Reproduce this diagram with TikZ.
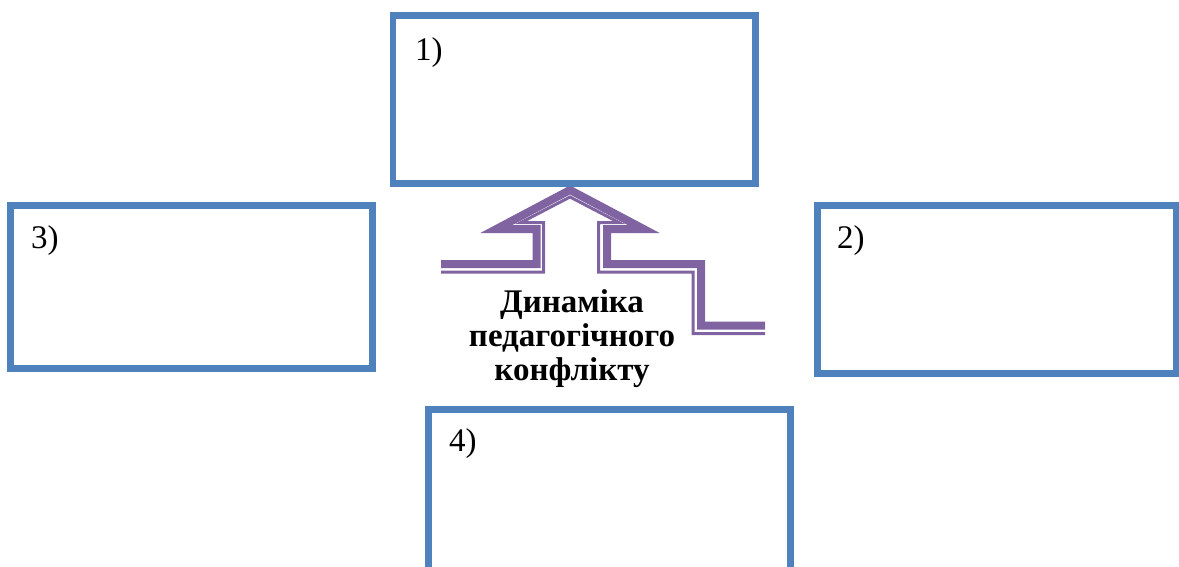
\documentclass[tikz,border=0pt]{standalone}
\usepackage{fontspec}
\setmainfont{Liberation Serif}
\usetikzlibrary{positioning}
\definecolor{boxblue}{HTML}{4F81BD}
\definecolor{arrowpurple}{HTML}{8064A2}

\begin{document}
\begin{tikzpicture}[x=1pt, y=-1pt,
  box/.style = {draw=boxblue, line width=6.5pt, inner sep=0pt},
  num/.style = {anchor=base west, inner sep=0pt, font=\fontsize{33}{36}\selectfont},
  thickline/.style = {draw=arrowpurple, line width=8pt},
  thinline/.style = {draw=arrowpurple, line width=3pt}]
\clip (0,0) rectangle (1179,566);
% arrow
\draw[thickline] (441,264) -- (536.5,264) -- (536.5,229) -- (496.4,229) -- (570,190) -- (643.6,229) -- (607,229) -- (607,264) -- (701,264) -- (701,325.5) -- (765,325.5);
\draw[thinline] (441,272) -- (543.5,272) -- (543.5,222.5) -- (521,222.5) -- (570,197) -- (619,222.5) -- (598.5,222.5) -- (598.5,272) -- (693,272) -- (693,333.5) -- (765,333.5);
% boxes
\node[box, minimum width=362.5pt, minimum height=168pt] (b1) at (574.25,99.5) {};
\node[box, minimum width=359.2pt, minimum height=167.6pt] (b2) at (996.9,289.5) {};
\node[box, minimum width=362pt, minimum height=163pt] (b3) at (191.7,286.8) {};
\node[box, minimum width=361.8pt, minimum height=171pt] (b4) at (609.4,495) {};
\node[num] (n1) at (415,60) {1)};
\node[num] (n2) at (837,248) {2)};
\node[num] (n3) at (31,248) {3)};
\node[num] (n4) at (449,451.5) {4)};
\node[align=center, anchor=north, inner sep=0pt, font=\bfseries\fontsize{33}{34}\selectfont] (dyn) at (572,289) {Динаміка\\педагогічного\\конфлікту};
\end{tikzpicture}
\end{document}
